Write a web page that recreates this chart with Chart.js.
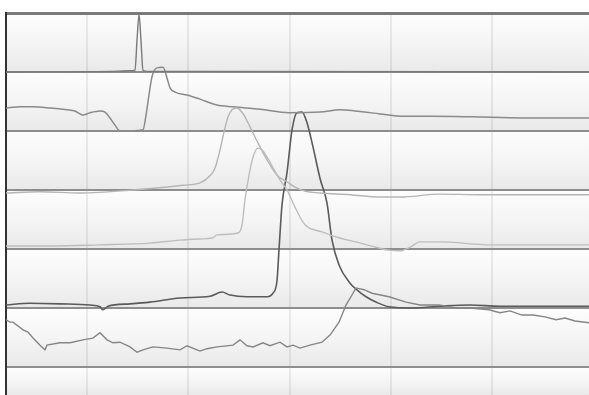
<!DOCTYPE html>
<html>
<head>
<meta charset="utf-8">
<script src="https://cdn.jsdelivr.net/npm/chart.js@4/dist/chart.umd.min.js"></script>
<style>
  html, body { margin: 0; padding: 0; background: #fff; }
  canvas { display: block; }
</style>
</head>
<body>
<canvas id="chart-trazas" width="589" height="395"></canvas>
<script>
// marcas del eje de tiempo y niveles de las bandas
const timeTicks = [10, 20, 30, 40, 50];
const bandLevels = [0, 1, 2, 3, 4, 5, 6];

// traza A: pico estrecho en la banda superior
const xA = [2.0, 12.27, 14.25, 14.74, 14.94, 15.14, 15.33, 15.53, 15.93, 21.16, 59.58];
const yA = [5.0, 5.01, 5.02, 5.03, 5.54, 5.98, 5.54, 5.03, 5.01, 5.01, 5.0];

// traza B
const xB = [2.0, 3.38, 4.67, 6.35, 8.02, 8.81, 9.6, 10.3, 11.28, 11.78, 12.27, 12.77, 13.26, 14.25, 15.53, 15.83, 16.12, 16.42, 16.91, 17.51, 17.9, 18.2, 18.69, 19.88, 21.16, 22.84, 24.42, 27.09, 29.95, 33.01, 34.99, 36.47, 38.94, 40.91, 43.88, 48.02, 52.96, 59.58];
const yB = [4.39, 4.41, 4.41, 4.39, 4.36, 4.34, 4.27, 4.31, 4.34, 4.32, 4.22, 4.10, 4.0, 4.0, 4.02, 4.27, 4.61, 4.92, 5.07, 5.08, 4.90, 4.73, 4.66, 4.61, 4.54, 4.44, 4.41, 4.37, 4.31, 4.32, 4.36, 4.34, 4.29, 4.25, 4.25, 4.24, 4.22, 4.22];

// traza C: pico alto oscuro
const xC = [2.0, 4.37, 7.33, 10.3, 11.28, 11.58, 12.07, 14.25, 16.22, 19.19, 22.15, 23.33, 24.12, 25.8, 27.78, 28.37, 28.77, 28.96, 29.26, 29.75, 30.25, 30.74, 31.23, 31.73, 32.32, 33.01, 33.7, 34.2, 34.89, 35.98, 36.57, 37.56, 38.54, 39.83, 42.1, 44.86, 47.83, 50.79, 54.74, 59.58];
const yC = [1.05, 1.08, 1.07, 1.05, 1.02, 0.97, 1.03, 1.07, 1.10, 1.17, 1.20, 1.27, 1.22, 1.19, 1.19, 1.25, 1.47, 1.98, 2.75, 3.29, 4.02, 4.31, 4.32, 4.14, 3.73, 3.20, 2.78, 2.15, 1.73, 1.42, 1.32, 1.19, 1.10, 1.02, 1.0, 1.03, 1.05, 1.03, 1.03, 1.03];

// traza D: banda inferior, con ruido
const xD = [2.0, 2.40, 2.69, 3.68, 4.17, 4.67, 5.36, 5.85, 6.05, 7.33, 8.32, 9.6, 10.59, 11.28, 11.98, 12.57, 13.26, 14.25, 14.94, 15.53, 16.52, 17.9, 19.19, 19.88, 21.16, 21.85, 22.84, 24.42, 25.11, 25.8, 26.4, 27.38, 28.07, 29.06, 29.75, 30.35, 31.04, 32.02, 33.21, 34.0, 34.89, 35.58, 36.17, 36.57, 37.36, 38.15, 39.83, 41.51, 42.89, 44.77, 46.44, 47.83, 49.7, 50.79, 51.78, 52.96, 54.05, 55.23, 56.32, 57.21, 58.2, 59.58];
const yD = [0.80, 0.76, 0.76, 0.63, 0.59, 0.49, 0.37, 0.29, 0.37, 0.41, 0.41, 0.46, 0.49, 0.58, 0.46, 0.41, 0.42, 0.34, 0.25, 0.29, 0.34, 0.32, 0.29, 0.36, 0.27, 0.31, 0.34, 0.37, 0.46, 0.36, 0.34, 0.41, 0.36, 0.42, 0.34, 0.37, 0.32, 0.37, 0.42, 0.54, 0.76, 1.05, 1.22, 1.34, 1.31, 1.25, 1.19, 1.10, 1.05, 1.05, 1.0, 1.0, 0.97, 0.92, 0.95, 0.88, 0.88, 0.85, 0.80, 0.83, 0.78, 0.75];

// traza E: gris claro, primer pico
const xE = [2.0, 5.36, 9.31, 14.54, 19.48, 21.16, 22.15, 22.64, 23.14, 23.53, 23.93, 24.32, 24.81, 25.21, 25.6, 26.1, 26.79, 27.78, 28.77, 29.75, 30.54, 31.53, 33.01, 35.98, 38.94, 40.91, 44.86, 48.81, 52.77, 59.58];
const yE = [2.95, 2.97, 2.95, 3.0, 3.08, 3.12, 3.24, 3.37, 3.68, 3.98, 4.24, 4.36, 4.39, 4.34, 4.24, 4.07, 3.83, 3.51, 3.25, 3.14, 3.05, 2.98, 2.95, 2.92, 2.88, 2.88, 2.93, 2.92, 2.92, 2.92];

// traza F: gris claro, segundo pico
const xF = [2.0, 6.35, 11.28, 16.22, 19.19, 21.16, 22.44, 22.84, 24.91, 25.31, 25.6, 26.0, 26.4, 26.89, 27.28, 27.78, 28.27, 29.06, 29.75, 30.54, 31.53, 33.21, 34.89, 36.57, 38.54, 39.83, 40.91, 41.9, 42.89, 44.86, 49.8, 59.58];
const yF = [2.05, 2.05, 2.07, 2.10, 2.15, 2.17, 2.19, 2.24, 2.27, 2.41, 2.83, 3.25, 3.56, 3.71, 3.68, 3.56, 3.41, 3.17, 3.0, 2.71, 2.41, 2.29, 2.19, 2.12, 2.03, 1.98, 1.97, 2.03, 2.12, 2.12, 2.07, 2.07];

function puntos(xs, ys) {
  return xs.map((x, i) => ({ x: x, y: ys[i] }));
}

function traza(nombre, xs, ys, color, ancho, suave) {
  return {
    label: nombre,
    data: puntos(xs, ys),
    borderColor: color,
    borderWidth: ancho,
    pointRadius: 0,
    fill: false,
    cubicInterpolationMode: suave ? 'monotone' : 'default',
    tension: 0
  };
}

// fondo degradado de cada banda
const bandas = {
  id: 'bandas',
  beforeDraw(chart) {
    const { ctx, chartArea, scales: { y } } = chart;
    ctx.save();
    for (let v = -1; v < 6; v++) {
      const top = y.getPixelForValue(v + 1);
      const bottom = y.getPixelForValue(Math.max(v, y.min));
      const g = ctx.createLinearGradient(0, top, 0, bottom);
      g.addColorStop(0, '#fdfdfd');
      g.addColorStop(0.5, '#f5f5f5');
      g.addColorStop(1, '#e9e9e9');
      ctx.fillStyle = g;
      ctx.fillRect(chartArea.left, top, chartArea.right - chartArea.left, bottom - top);
    }
    ctx.restore();
  }
};

const ctxTrazas = document.getElementById('chart-trazas').getContext('2d');
new Chart(ctxTrazas, {
  type: 'line',
  data: {
    datasets: [
      traza('F', xF, yF, '#bdbdbd', 1.4, true),
      traza('E', xE, yE, '#b5b5b5', 1.4, true),
      traza('A', xA, yA, '#7a7a7a', 1.4, true),
      traza('B', xB, yB, '#8a8a8a', 1.5, true),
      traza('D', xD, yD, '#858585', 1.4, false),
      traza('C', xC, yC, '#5a5a5a', 1.6, true)
    ]
  },
  plugins: [bandas],
  options: {
    responsive: false,
    animation: false,
    layout: { padding: { left: 6, top: 13, right: 0, bottom: 0 } },
    plugins: {
      legend: { display: false },
      tooltip: { enabled: false }
    },
    scales: {
      x: {
        type: 'linear',
        min: 2,
        max: 59.58,
        afterBuildTicks: (s) => { s.ticks = timeTicks.map(v => ({ value: v })); },
        ticks: { display: false },
        grid: { color: 'rgba(0,0,0,0.07)', lineWidth: 2, drawTicks: false },
        border: { display: false }
      },
      y: {
        type: 'linear',
        min: -0.475,
        max: 6,
        afterBuildTicks: (s) => { s.ticks = bandLevels.map(v => ({ value: v })); },
        ticks: { display: false },
        grid: {
          color: (c) => c.tick && c.tick.value === 6 ? '#7a7a7a' : '#8e8e8e',
          lineWidth: (c) => c.tick && c.tick.value === 6 ? 3 : 2,
          drawTicks: false
        },
        border: { display: true, color: '#333', width: 2 }
      }
    }
  }
});
</script>
</body>
</html>
